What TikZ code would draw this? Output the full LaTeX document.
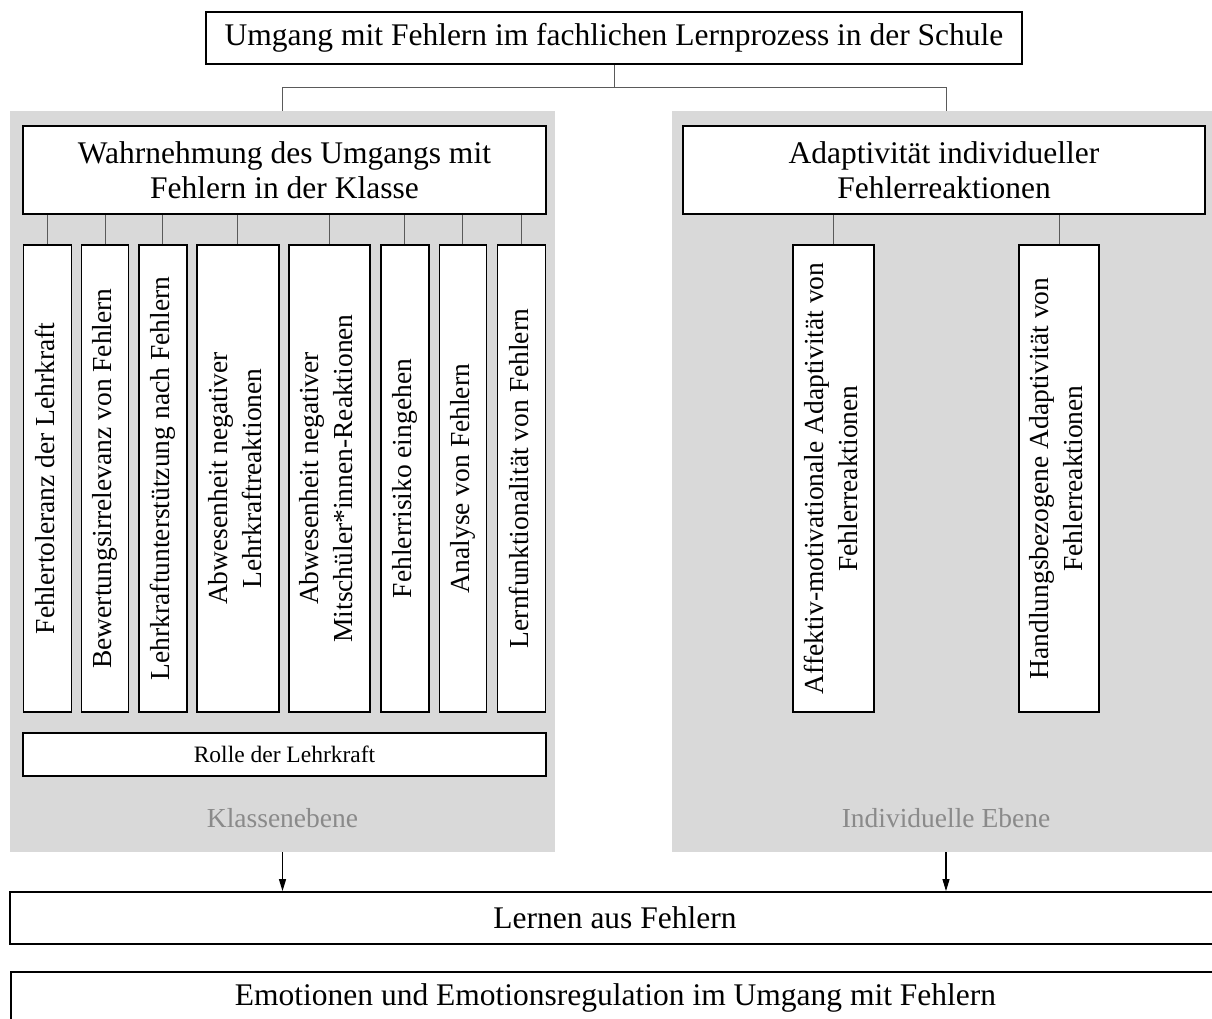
\documentclass[tikz,border=0pt]{standalone}
\usepackage{fontspec}
\setmainfont{Liberation Serif}
\usepackage{graphicx}
\usetikzlibrary{arrows.meta}
\definecolor{panelgray}{HTML}{D9D9D9}
\definecolor{levelgray}{HTML}{8A8A8A}
\definecolor{linkgray}{HTML}{5A5A5A}
% vertical label set bottom-to-top inside a tall box
\newcommand{\vlabel}[1]{\rotatebox{90}{\fontsize{27.5}{34}\selectfont\begin{tabular}{@{}c@{}}#1\end{tabular}}}

\begin{document}
\begin{tikzpicture}[x=1pt,y=-1pt,
  panel/.style={fill=panelgray, draw=none, inner sep=0pt},
  box/.style={draw=black, line width=1.8pt, fill=white, inner sep=0pt, align=center},
  head/.style={box, font=\fontsize{31.5}{35}\selectfont},
  vbox/.style={box, minimum height=467pt},
  conn/.style={draw=linkgray, line width=1pt},
  flow/.style={draw=black, line width=1.1pt, -{Triangle[length=12pt,width=7pt]}},
  level/.style={text=levelgray, font=\fontsize{27.5}{30}\selectfont},
]
\useasboundingbox (0,0) rectangle (1212,1019);
\clip (0,0) rectangle (1212,1019);
\fill[white] (0,0) rectangle (1212,1019);

% two grey level panels
\node[panel, minimum width=545pt, minimum height=741pt] (lp) at (282.5,481.5) {};
\node[panel, minimum width=548pt, minimum height=741pt] (rp) at (946,481.5) {};

% top heading
\node[head, minimum width=816pt, minimum height=52pt] (top) at (614,38)
  {Umgang mit Fehlern im fachlichen Lernprozess in der Schule};

% branch to both panels
\coordinate (split) at (614,88);
\draw[conn] (top.south) -- (split);
\draw[conn] (split) -| (lp.north);
\draw[conn] (split) -| (rp.north);

% class level
\node[head, minimum width=523pt, minimum height=88pt] (wahr) at (284.5,170)
  {Wahrnehmung des Umgangs mit\\Fehlern in der Klasse};

\node[vbox, minimum width=48pt] (v1) at (47.5,478.5) {\vlabel{Fehlertoleranz der Lehrkraft}};
\node[vbox, minimum width=47pt] (v2) at (105,478.5) {\vlabel{Bewertungsirrelevanz von Fehlern}};
\node[vbox, minimum width=48pt] (v3) at (162.7,478.5) {\vlabel{Lehrkraftunterstützung nach Fehlern}};
\node[vbox, minimum width=81.5pt] (v4) at (237.9,478.5) {\vlabel{Abwesenheit negativer\\Lehrkraftreaktionen}};
\node[vbox, minimum width=81pt] (v5) at (329.1,478.5) {\vlabel{Abwesenheit negativer\\Mitschüler*innen-Reaktionen}};
\node[vbox, minimum width=47.6pt] (v6) at (404.8,478.5) {\vlabel{Fehlerrisiko eingehen}};
\node[vbox, minimum width=47pt] (v7) at (462.9,478.5) {\vlabel{Analyse von Fehlern}};
\node[vbox, minimum width=48pt] (v8) at (521.5,478.5) {\vlabel{Lernfunktionalität von Fehlern}};

\foreach \v in {v1,v2,v3,v4,v5,v6,v7,v8}
  \draw[conn] (\v.north) -- (\v.north |- wahr.south);

\node[box, minimum width=523pt, minimum height=43pt, font=\fontsize{23.5}{26}\selectfont] (rolle) at (284.5,754.5)
  {Rolle der Lehrkraft};
\node[level] (klasse) at (282.5,818) {Klassenebene};

% individual level
\node[head, minimum width=522pt, minimum height=88pt] (adapt) at (944,170)
  {Adaptivität individueller\\Fehlerreaktionen};

\node[vbox, minimum width=81pt] (a1) at (833.4,478.5) {\vlabel{Affektiv-motivationale Adaptivität von\\Fehlerreaktionen}};
\node[vbox, minimum width=80pt] (a2) at (1059,478.5) {\vlabel{Handlungsbezogene Adaptivität von\\Fehlerreaktionen}};

\foreach \v in {a1,a2}
  \draw[conn] (\v.north) -- (\v.north |- adapt.south);

\node[level] (indiv) at (946,818) {Individuelle Ebene};

% outcome and emotion bars
\node[head, minimum width=1210pt, minimum height=52pt] (lernen) at (615,918) {Lernen aus Fehlern};
\node[head, minimum width=1209pt, minimum height=52pt] (emo) at (615.5,998)
  {Emotionen und Emotionsregulation im Umgang mit Fehlern};

\draw[flow] (lp.south) -- (lp.south |- lernen.north);
\draw[flow] (rp.south) -- (rp.south |- lernen.north);
\end{tikzpicture}
\end{document}
